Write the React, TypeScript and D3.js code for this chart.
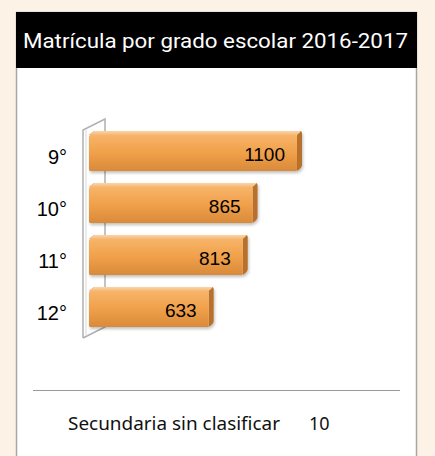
import React from "react";
import * as d3 from "d3";

const categories = ["9°", "10°", "11°", "12°"];
const values = [1100, 865, 813, 633];
const title = "Matrícula por grado escolar 2016-2017";
const footLabel = "Secundaria sin clasificar";
const footValue = "10";

const W = 435;
const H = 456;

export default function App() {
  const y = d3
    .scaleBand<string>()
    .domain(categories)
    .range([125, 333])
    .paddingInner(0.23)
    .paddingOuter(0.115);
  const x = d3.scaleLinear().domain([0, 1100]).range([89, 297]);
  const dx = 5;
  const dy = 4;
  const bw = y.bandwidth();

  return (
    <svg
      width={W}
      height={H}
      style={{ position: "absolute", left: 0, top: 0, display: "block" }}
    >
      <defs>
        <linearGradient id="face" x1="0" y1="0" x2="0" y2="1">
          <stop offset="0" stopColor="#f7b469" />
          <stop offset="0.5" stopColor="#f0a049" />
          <stop offset="1" stopColor="#d98a3a" />
        </linearGradient>
        <linearGradient id="top" x1="0" y1="0" x2="0" y2="1">
          <stop offset="0" stopColor="#fbd5a6" />
          <stop offset="1" stopColor="#f4b877" />
        </linearGradient>
        <linearGradient id="side" x1="0" y1="0" x2="1" y2="0">
          <stop offset="0" stopColor="#d88a3c" />
          <stop offset="1" stopColor="#b8702a" />
        </linearGradient>
        <filter id="sh" x="-10%" y="-20%" width="130%" height="160%">
          <feDropShadow dx="1" dy="2" stdDeviation="1.5" floodColor="#000" floodOpacity="0.25" />
        </filter>
      </defs>
      <rect x={0} y={0} width={W} height={H} fill="#fcf3e6" />
      <rect x={16.5} y={12.5} width={400} height={460} fill="#ffffff" stroke="#a6a6a6" strokeWidth={1.5} />
      <rect x={16} y={12} width={401} height={56} fill="#000000" />
      <text
        x={23}
        y={48}
        fill="#ffffff"
        fontFamily="Roboto, 'Open Sans', sans-serif"
        fontSize={20}
        textLength={385}
        lengthAdjust="spacingAndGlyphs"
      >
        {title}
      </text>

      {/* axis wall */}
      <g fill="none" stroke="#b0b0b0" strokeWidth={1.5}>
        <path d="M83,338 L83,130 L105,119 L105,327 L83,338" />
        <path d="M86,336 L86,129" stroke="#d8d8d8" strokeWidth={1} />
      </g>

      {categories.map((c, i) => {
        const top = y(c)!;
        const x0 = x(0);
        const x1 = x(values[i]);
        const fy0 = top + dy;
        const fy1 = top + bw;
        const mid = (fy0 + fy1) / 2;
        return (
          <g key={c}>
            <g filter="url(#sh)">
              <path
                d={`M${x0},${fy0} L${x0 + dx},${top} L${x1 + dx - 2},${top} Q${x1 + dx},${top} ${x1 + dx},${top + 2} L${x1 + dx},${fy1 - dy - 2} Q${x1 + dx},${fy1 - dy + 1} ${x1},${fy1} L${x1},${fy0} Z`}
                fill="url(#side)"
              />
              <path
                d={`M${x0},${fy0} L${x0 + dx},${top} L${x1 + dx - 2},${top} Q${x1 + dx},${top} ${x1},${fy0} Z`}
                fill="url(#top)"
              />
              <rect x={x0} y={fy0} width={x1 - x0} height={fy1 - fy0} rx={1.5} fill="url(#face)" />
            </g>
            <text
              x={x1 - 12}
              y={mid + 8}
              textAnchor="end"
              fontFamily="'Liberation Sans', Arial, sans-serif"
              fontSize={19}
              fill="#000"
            >
              {values[i]}
            </text>
            <text
              x={67}
              y={mid + 11}
              textAnchor="end"
              fontFamily="'Liberation Sans', Arial, sans-serif"
              fontSize={20}
              fill="#000"
            >
              {c}
            </text>
          </g>
        );
      })}

      <line x1={33} x2={400} y1={390.5} y2={390.5} stroke="#999999" strokeWidth={1} />
      <text
        x={68}
        y={430}
        fontFamily="'Noto Sans', 'Open Sans', sans-serif"
        fontSize={18}
        fill="#111"
        textLength={212}
        lengthAdjust="spacingAndGlyphs"
      >
        {footLabel}
      </text>
      <text x={309} y={430} fontFamily="'Noto Sans', 'Open Sans', sans-serif" fontSize={18} fill="#111">
        {footValue}
      </text>
    </svg>
  );
}
